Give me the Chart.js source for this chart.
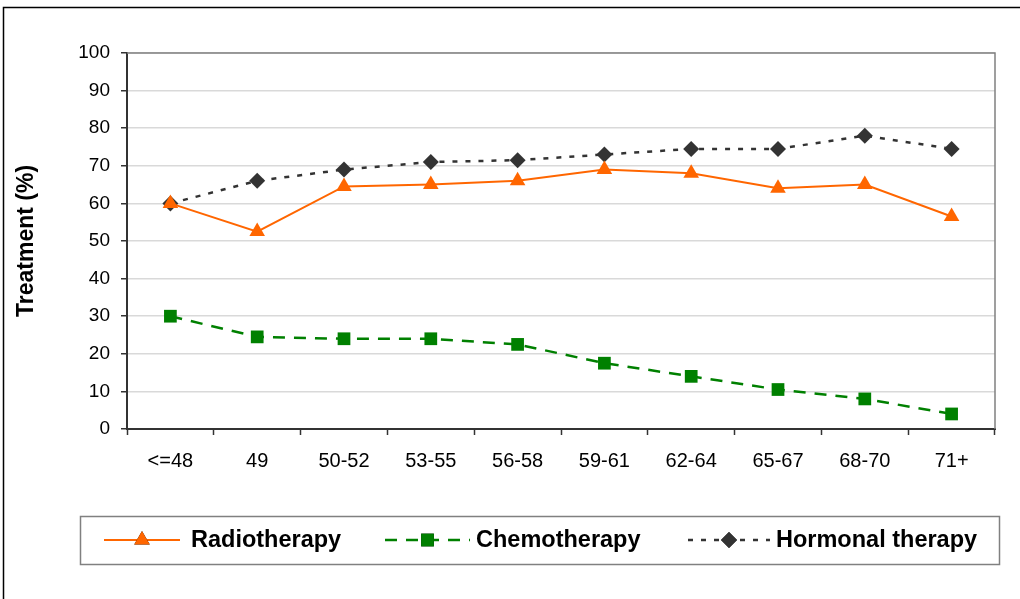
<!DOCTYPE html>
<html>
<head>
<meta charset="utf-8">
<script src="https://cdn.jsdelivr.net/npm/chart.js@4"></script>
<style>
  html, body { margin: 0; padding: 0; background: #fff; }
  #wrap { width: 1020px; height: 599px; }
</style>
</head>
<body>
<div id="wrap"><canvas id="grafico" width="1020" height="599"></canvas></div>
<script>
// datos
let categorias = ['<=48', '49', '50-52', '53-55', '56-58', '59-61', '62-64', '65-67', '68-70', '71+'];
let radioterapia = [60, 52.5, 64.5, 65, 66, 69, 68, 64, 65, 56.5];
let quimioterapia = [30, 24.5, 24, 24, 22.5, 17.5, 14, 10.5, 8, 4];
let hormonal = [60, 66, 69, 71, 71.5, 73, 74.5, 74.5, 78, 74.5];
let nombres = ['Radiotherapy', 'Chemotherapy', 'Hormonal therapy'];
let tituloY = 'Treatment (%)';

const ctx = document.getElementById('grafico').getContext('2d');

// marco exterior, borde del area de trazado y leyenda en caja
const marcos = {
    id: 'marcos',
    beforeDraw(chart) {
        const c = chart.ctx;
        c.save();
        c.fillStyle = '#fff';
        c.fillRect(0, 0, chart.width, chart.height);
        c.strokeStyle = '#000';
        c.lineWidth = 1.5;
        c.strokeRect(3.5, 7.5, 1100, 700);
        c.restore();
    },
    afterDatasetsDraw(chart) {
        const c = chart.ctx;
        const a = chart.chartArea;
        c.save();
        c.strokeStyle = '#808080';
        c.lineWidth = 1.5;
        c.beginPath();
        c.moveTo(a.left, a.top);
        c.lineTo(a.right, a.top);
        c.lineTo(a.right, a.bottom);
        c.stroke();

        // caja de la leyenda
        c.strokeStyle = '#808080';
        c.lineWidth = 1.5;
        c.strokeRect(80.5, 516.5, 919, 48);

        const items = [
            { x0: 104, x1: 180, tx: 191 },
            { x0: 385, x1: 470, tx: 476 },
            { x0: 688, x1: 770, tx: 776 }
        ];
        const y = 540;
        chart.data.datasets.forEach((ds, i) => {
            const it = items[i];
            c.strokeStyle = ds.borderColor;
            c.lineWidth = ds.borderWidth;
            c.setLineDash(ds.borderDash || []);
            c.beginPath();
            c.moveTo(it.x0, y);
            c.lineTo(it.x1, y);
            c.stroke();
            c.setLineDash([]);
            Chart.helpers.drawPoint(c, {
                pointStyle: ds.pointStyle,
                radius: ds.pointRadius,
                borderWidth: 0,
                rotation: 0
            }, (it.x0 + it.x1) / 2, y);
            c.fillStyle = ds.pointBackgroundColor;
            c.fill();
            c.fillStyle = '#000';
            c.font = 'bold 23.5px "Liberation Sans", Arial, sans-serif';
            c.textBaseline = 'middle';
            c.textAlign = 'left';
            c.fillText(ds.label, it.tx, y + 1);
        });
        c.restore();
    }
};

new Chart(ctx, {
    type: 'line',
    data: {
        labels: categorias,
        datasets: [{
            label: nombres[0],
            data: radioterapia,
            borderColor: '#ff6600',
            backgroundColor: '#ff6600',
            pointBackgroundColor: '#ff6600',
            pointBorderColor: '#ff6600',
            borderWidth: 2,
            pointStyle: 'triangle',
            pointRadius: 9,
            pointBorderWidth: 0
        }, {
            label: nombres[1],
            data: quimioterapia,
            borderColor: '#008000',
            backgroundColor: '#008000',
            pointBackgroundColor: '#008000',
            pointBorderColor: '#008000',
            borderWidth: 2.5,
            borderDash: [12, 9],
            pointStyle: 'rect',
            pointRadius: 9,
            pointBorderWidth: 0
        }, {
            label: nombres[2],
            data: hormonal,
            borderColor: '#333333',
            backgroundColor: '#333333',
            pointBackgroundColor: '#333333',
            pointBorderColor: '#333333',
            borderWidth: 2.5,
            borderDash: [5, 8],
            pointStyle: 'rectRot',
            pointRadius: 8,
            pointBorderWidth: 0
        }]
    },
    options: {
        responsive: false,
        animation: false,
        layout: { padding: { left: 0, top: 53, right: 25, bottom: 120 } },
        plugins: {
            legend: { display: false },
            tooltip: { enabled: false }
        },
        scales: {
            x: {
                offset: true,
                grid: {
                    offset: true,
                    drawOnChartArea: false,
                    tickLength: 6,
                    tickColor: '#333',
                    tickWidth: 1.5
                },
                border: { color: '#333', width: 2 },
                ticks: {
                    color: '#000',
                    padding: 14,
                    maxRotation: 0,
                    font: { family: '"Liberation Sans", Arial, sans-serif', size: 20 }
                },
                afterFit(scale) { scale.height = 50; }
            },
            y: {
                min: 0,
                max: 100,
                ticks: {
                    stepSize: 10,
                    color: '#000',
                    padding: 11,
                    font: { family: '"Liberation Sans", Arial, sans-serif', size: 19 }
                },
                grid: {
                    color: '#d9d9d9',
                    lineWidth: 1.5,
                    tickLength: 6,
                    tickColor: '#333',
                    tickWidth: 1.5
                },
                border: { color: '#333', width: 2 },
                title: {
                    display: true,
                    text: tituloY,
                    color: '#000',
                    padding: { top: 13, bottom: 0 },
                    font: { family: '"Liberation Sans", Arial, sans-serif', size: 23, weight: 'bold' }
                },
                afterFit(scale) { scale.width = 127; }
            }
        }
    },
    plugins: [marcos]
});
</script>
</body>
</html>
